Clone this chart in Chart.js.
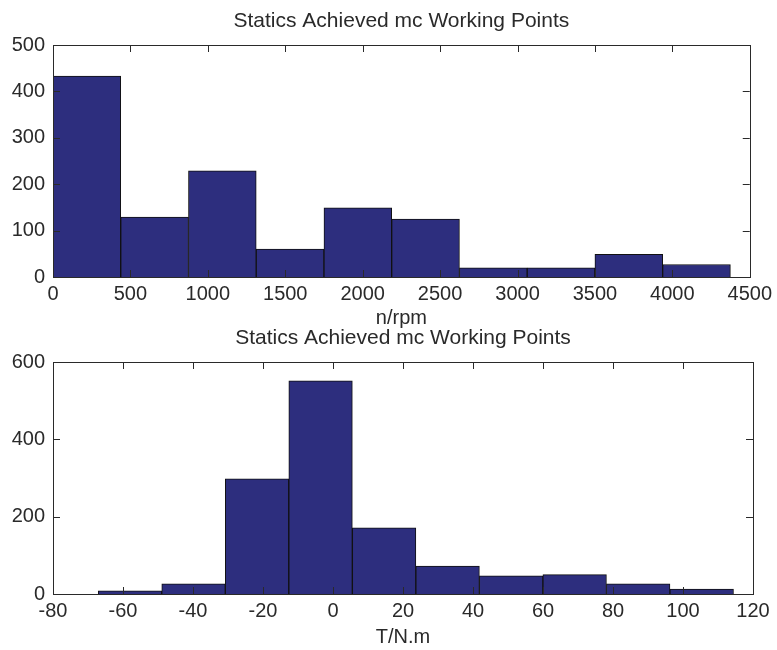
<!DOCTYPE html>
<html>
<head>
<meta charset="utf-8">
<script src="https://cdn.jsdelivr.net/npm/chart.js@4"></script>
<style>
  body { margin: 0; background: #fff; }
  #wrap { position: relative; width: 777px; height: 650px; }
  canvas { position: absolute; left: 0; }
  #speedChart { top: 0; }
  #torqueChart { top: 320px; }
</style>
</head>
<body>
<div id="wrap">
  <canvas id="speedChart" width="777" height="340"></canvas>
  <canvas id="torqueChart" width="777" height="330"></canvas>
</div>
<script>
// histogram bins (bin centres + counts)
var chartTitle = 'Statics Achieved mc Working Points';

var speedCenters = [218.75, 656.25, 1093.75, 1531.25, 1968.75, 2406.25, 2843.75, 3281.25, 3718.75, 4156.25];
var speedCounts = [433, 129, 229, 60, 149, 125, 20, 20, 49, 27];
var speedTicks = [0, 500, 1000, 1500, 2000, 2500, 3000, 3500, 4000, 4500];
var speedYTicks = [0, 100, 200, 300, 400, 500];

var torqueCenters = [-58.0, -39.85, -21.7, -3.55, 14.6, 32.75, 50.9, 69.05, 87.2, 105.35];
var torqueCounts = [8, 26, 298, 551, 171, 72, 47, 50, 26, 13];
var torqueTicks = [-80, -60, -40, -20, 0, 20, 40, 60, 80, 100, 120];
var torqueYTicks = [0, 200, 400, 600];

const barColor = '#2d2e7e';
const inkColor = '#2a2a2a';

Chart.defaults.font.family = '"Liberation Sans", Arial, sans-serif';
Chart.defaults.font.size = 20;
Chart.defaults.color = inkColor;

// matlab style box with inward ticks on all four sides
const boxPlugin = {
    id: 'matlabBox',
    afterDatasetsDraw(chart) {
        const ctx = chart.ctx;
        const area = chart.chartArea;
        const xs = chart.scales.x;
        const ys = chart.scales.y;
        const len = 7;
        ctx.save();
        ctx.strokeStyle = inkColor;
        ctx.lineWidth = 1;
        ctx.beginPath();
        xs.ticks.forEach(t => {
            const px = Math.round(xs.getPixelForValue(t.value)) + 0.5;
            ctx.moveTo(px, area.bottom);
            ctx.lineTo(px, area.bottom - len);
            ctx.moveTo(px, area.top);
            ctx.lineTo(px, area.top + len);
        });
        ys.ticks.forEach(t => {
            const py = Math.round(ys.getPixelForValue(t.value)) + 0.5;
            ctx.moveTo(area.left, py);
            ctx.lineTo(area.left + len, py);
            ctx.moveTo(area.right, py);
            ctx.lineTo(area.right - len, py);
        });
        ctx.stroke();
        ctx.strokeRect(Math.round(area.left) + 0.5, Math.round(area.top) + 0.5,
            Math.round(area.right - area.left), Math.round(area.bottom - area.top));
        ctx.restore();
    }
};

function makeHist(canvasId, centers, counts, xTicks, yTicks, xLabel, sizes) {
    const pts = centers.map((c, i) => ({x: c, y: counts[i]}));
    return new Chart(document.getElementById(canvasId), {
        type: 'bar',
        data: {
            datasets: [{
                data: pts,
                backgroundColor: barColor,
                borderColor: '#111',
                borderWidth: 1,
                barPercentage: 1,
                categoryPercentage: 1
            }]
        },
        options: {
            responsive: false,
            animation: false,
            layout: {padding: {left: 0, right: 24, top: 0, bottom: 0}},
            plugins: {
                legend: {display: false},
                tooltip: {enabled: false},
                title: {
                    display: true,
                    text: chartTitle,
                    fullSize: false,
                    font: {size: 21, weight: 'normal', lineHeight: 24 / 21},
                    color: inkColor,
                    padding: {top: sizes.titleTop, bottom: sizes.titleBottom}
                }
            },
            scales: {
                x: {
                    type: 'linear',
                    offset: false,
                    min: xTicks[0],
                    max: xTicks[xTicks.length - 1],
                    grid: {display: false, drawTicks: false, offset: false},
                    border: {display: false},
                    afterBuildTicks: (s) => { s.ticks = xTicks.map(v => ({value: v})); },
                    afterFit: (s) => { s.height = sizes.xHeight; },
                    ticks: {padding: 5, maxRotation: 0, autoSkip: false, callback: (v) => String(v)},
                    title: {display: true, text: xLabel, padding: {top: 0, bottom: sizes.xTitleBottom}}
                },
                y: {
                    min: yTicks[0],
                    max: yTicks[yTicks.length - 1],
                    grid: {display: false, drawTicks: false},
                    border: {display: false},
                    afterBuildTicks: (s) => { s.ticks = yTicks.map(v => ({value: v})); },
                    afterFit: (s) => { s.width = 53; },
                    ticks: {padding: 8, callback: (v) => String(v)}
                }
            }
        },
        plugins: [boxPlugin]
    });
}

makeHist('speedChart', speedCenters, speedCounts, speedTicks, speedYTicks, 'n/rpm',
    {titleTop: 9, titleBottom: 12, xHeight: 63, xTitleBottom: 10});
makeHist('torqueChart', torqueCenters, torqueCounts, torqueTicks, torqueYTicks, 'T/N.m',
    {titleTop: 6, titleBottom: 12, xHeight: 56, xTitleBottom: 1});
</script>
</body>
</html>
